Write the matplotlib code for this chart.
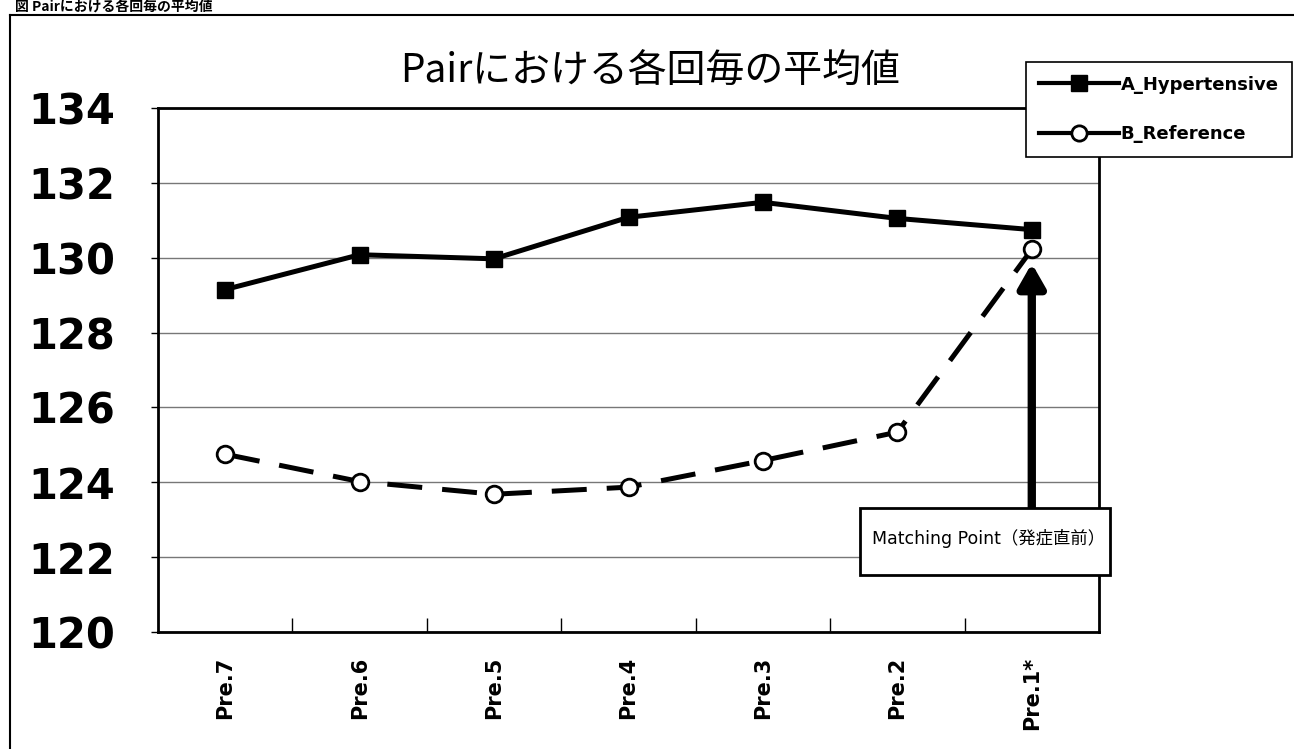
import matplotlib
matplotlib.use("Agg")
import matplotlib.pyplot as plt
from matplotlib.patches import Rectangle
from matplotlib.lines import Line2D

categories = ["Pre.7", "Pre.6", "Pre.5", "Pre.4", "Pre.3", "Pre.2", "Pre.1*"]
a_hypertensive = [129.15, 130.08, 129.97, 131.08, 131.48, 131.05, 130.75]
b_reference = [124.75, 124.02, 123.68, 123.87, 124.58, 125.34, 130.22]
y_ticks = [120, 122, 124, 126, 128, 130, 132, 134]
title = "Pairにおける各回毎の平均値"
caption = "図 Pairにおける各回毎の平均値"
note = "Matching Point（発症直前）"

plt.rcParams['font.family'] = ['DejaVu Sans', 'Noto Sans CJK JP']

W, H = 1294, 749
fig = plt.figure(figsize=(W / 100, H / 100), dpi=100)
ax = fig.add_axes([158 / W, 1 - 632 / H, (1099 - 158) / W, (632 - 108) / H])

x = list(range(len(categories)))
ax.plot(x, a_hypertensive, color='black', lw=3.6, marker='s', ms=12,
        mfc='black', mec='black', label='A_Hypertensive', zorder=4)
ax.plot(x, b_reference, color='black', lw=3.6, dashes=(7, 4), marker='o', ms=12,
        mfc='white', mec='black', mew=2, label='B_Reference', zorder=4)

ax.set_xlim(-0.5, len(categories) - 0.5)
ax.set_ylim(y_ticks[0], y_ticks[-1])
ax.set_yticks(y_ticks)
ax.set_yticklabels([str(v) for v in y_ticks], fontsize=30, fontweight='bold',
                   family='DejaVu Sans')
ax.set_xticks(x)
ax.set_xticklabels(categories, rotation=90, fontsize=15, fontweight='bold',
                   family='DejaVu Sans')
ax.set_xticks([i + 0.5 for i in range(len(categories) - 1)], minor=True)
ax.tick_params(axis='x', which='major', length=0, pad=18)
ax.tick_params(axis='x', which='minor', direction='in', length=10, width=1)
ax.tick_params(axis='y', which='major', direction='out', length=5, width=1, pad=26)
ax.grid(axis='y', color='#777777', lw=1)
ax.set_axisbelow(True)
for s in ax.spines.values():
    s.set_linewidth(2)
    s.set_color('black')

fig.text(650 / W, 1 - 72 / H, title, ha='center', va='center', fontsize=28,
         family=['Noto Sans CJK JP'])

# arrow from annotation box to matching point
ax.annotate('', xy=(x[-1], b_reference[-1]), xycoords='data',
            xytext=(x[-1], 0.236), textcoords=('data', 'axes fraction'),
            arrowprops=dict(arrowstyle='-|>,head_length=1.4,head_width=0.8',
                            color='black', lw=6, shrinkA=0, shrinkB=10))

# annotation box
fig.add_artist(Rectangle((860 / W, 1 - 575 / H), (1110 - 860) / W, (575 - 508) / H,
                         transform=fig.transFigure, fill=True, facecolor='white',
                         edgecolor='black', lw=2, zorder=5))
fig.text(872 / W, 1 - 538 / H, note, ha='left', va='center', fontsize=12.5,
         zorder=6)

# legend
leg = fig.legend(loc='upper right', bbox_to_anchor=(1292 / W, 1 - 62 / H),
                 prop=dict(family='DejaVu Sans', weight='bold', size=13),
                 handlelength=4.4, handletextpad=0.1, labelspacing=1.75,
                 borderpad=0.75, borderaxespad=0, fancybox=False, framealpha=1,
                 edgecolor='black')
leg.get_frame().set_linewidth(1.2)
for h in leg.legend_handles:
    h.set_linestyle('-')
    h.set_linewidth(3)
    h.set_markersize(11)

# outer frame
fig.add_artist(Line2D([10 / W, 10 / W], [0, 1 - 15 / H], transform=fig.transFigure,
                      color='black', lw=1.5))
fig.add_artist(Line2D([10 / W, 1], [1 - 15 / H, 1 - 15 / H], transform=fig.transFigure,
                      color='black', lw=1.5))
fig.text(15 / W, 1 - 7 / H, caption, ha='left', va='center', fontsize=10,
         family=['Noto Sans CJK JP'], fontweight='bold')

fig.savefig('out.png', dpi=100)
